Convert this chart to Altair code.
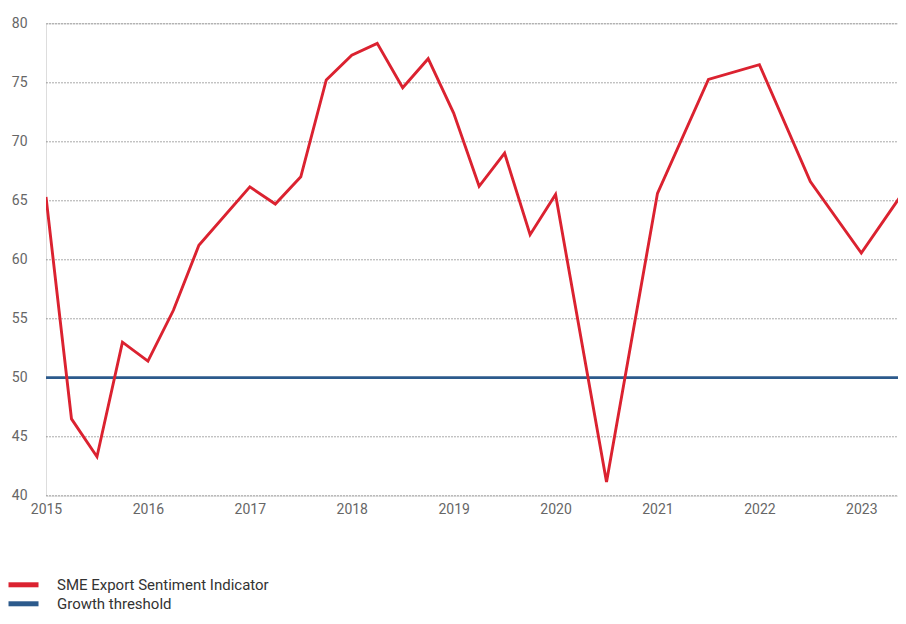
import altair as alt
import pandas as pd

years = [2015.0, 2015.25, 2015.5, 2015.75, 2016.0, 2016.25, 2016.5, 2017.0, 2017.25,
         2017.5, 2017.75, 2018.0, 2018.25, 2018.5, 2018.75, 2019.0, 2019.25, 2019.5,
         2019.75, 2020.0, 2020.5, 2021.0, 2021.5, 2022.0, 2022.5, 2023.0, 2023.5]
sentiment = [65.3, 46.5, 43.3, 53.0, 51.4, 55.7, 61.2, 66.15, 64.7,
             67.0, 75.2, 77.3, 78.3, 74.55, 77.0, 72.4, 66.2, 69.0,
             62.1, 65.5, 41.15, 65.6, 75.25, 76.5, 66.6, 60.55, 66.8]
threshold_years = [2015.0, 2023.5]
threshold_values = [50, 50]
series_names = ["SME Export Sentiment Indicator", "Growth threshold"]
series_colors = ["#db2230", "#2c5a8c"]
year_ticks = list(range(2015, 2024))
y_ticks = [40, 45, 50, 55, 60, 65, 70, 75, 80]

df = pd.concat([
    pd.DataFrame({"year": threshold_years, "value": threshold_values, "series": series_names[1]}),
    pd.DataFrame({"year": years, "value": sentiment, "series": series_names[0]}),
], ignore_index=True)

FONT = "Roboto"

color = alt.Color(
    "series:N",
    scale=alt.Scale(domain=series_names, range=series_colors),
    legend=alt.Legend(
        title=None,
        orient="none",
        legendX=-30,
        legendY=554,
        direction="vertical",
        symbolType="M-3,0H3",
        symbolSize=100,
        symbolStrokeWidth=5,
        labelFontSize=15,
        labelFont=FONT,
        labelColor="#333333",
        labelOffset=26,
        labelLimit=0,
        rowPadding=-2,
        padding=0,
    ),
)

x = alt.X(
    "year:Q",
    scale=alt.Scale(domain=[2015, 2023.36], nice=False, zero=False),
    axis=alt.Axis(
        values=year_ticks, format="d", title=None, grid=False, ticks=False,
        domain=False, labelFontSize=14, labelFont=FONT,
        labelColor="#666666", labelPadding=7, labelFlush=False,
    ),
)
y = alt.Y(
    "value:Q",
    scale=alt.Scale(domain=[40, 80], nice=False, zero=False),
    axis=alt.Axis(
        values=y_ticks, title=None, grid=True, gridDash=[1, 2], gridColor="#555555",
        gridWidth=1, gridOpacity=1, ticks=False, domain=False,
        labelFontSize=14, labelFont=FONT, labelColor="#666666", labelPadding=19,
    ),
)

chart = (
    alt.Chart(df)
    .mark_line(strokeWidth=2.9, clip=True)
    .encode(x=x, y=y, color=color)
    .properties(
        width=852,
        height=472.4,
        autosize=alt.AutoSizeParams(type="none"),
        padding={"left": 38, "top": 15.3, "right": 0, "bottom": 119},
    )
    .configure_view(stroke="transparent", strokeWidth=0)
    .configure_axis(domain=False)
    .configure(background="white")
)

chart.save("out.html", embed_options={"renderer": "svg", "actions": False})
